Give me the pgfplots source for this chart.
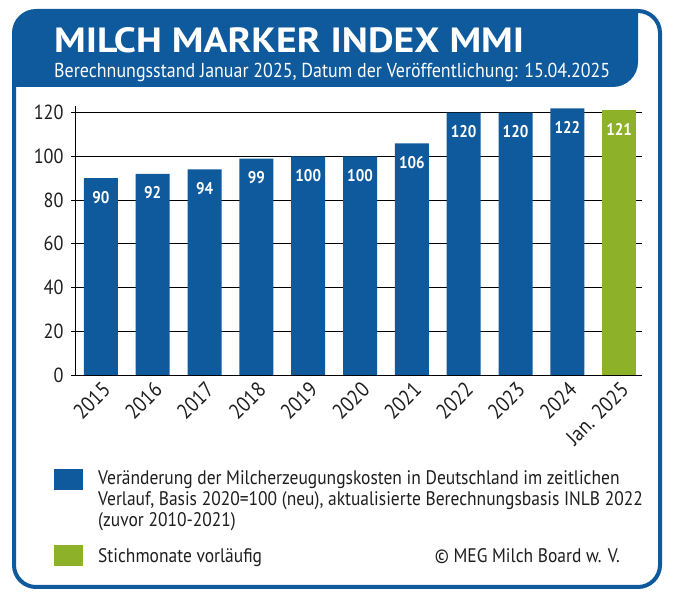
\documentclass[border=0pt]{standalone}
\usepackage{fontspec}
\setmainfont{PT Sans}[FakeStretch=0.89]
\usepackage{pgfplots}
\pgfplotsset{compat=1.18}
\definecolor{megblue}{HTML}{0F5A9C}
\definecolor{meggreen}{HTML}{8DB22A}
\definecolor{txt}{HTML}{1E1E1E}
\begin{document}
\begin{tikzpicture}[x=1bp,y=1bp]
\path[use as bounding box] (0,0) rectangle (673,600);
% header band
\fill[megblue] (14,513) -- (14,567) arc[start angle=180,end angle=90,radius=22] -- (638,589) -- (638,538) arc[start angle=0,end angle=-90,radius=25] -- cycle;
\draw[megblue,line width=4bp,rounded corners=22bp] (14,13) rectangle (660,589);
\node[anchor=base west,inner sep=0,text=white] at (54,547) {\resizebox{470bp}{25bp}{\bfseries MILCH MARKER INDEX MMI}};
\node[anchor=base west,inner sep=0,text=white] at (54,522) {\resizebox{556bp}{!}{\fontsize{18}{18}\selectfont Berechnungsstand Januar 2025, Datum der Veröffentlichung: 15.04.2025}};
\begin{axis}[
  at={(75bp,225bp)}, anchor=south west, scale only axis,
  width=567bp, height=268.9bp,
  xmin=-0.5, xmax=10.44, ymin=0, ymax=123,
  axis lines*=left,
  axis line style={black, line width=0.8bp},
  ybar, bar width=34bp,
  ytick={0,20,...,120}, ymajorgrids,
  major grid style={black, line width=0.8bp},
  xtick={0,...,10},
  xticklabels={2015,2016,2017,2018,2019,2020,2021,2022,2023,2024,Jan. 2025},
  x tick style={draw=none},
  y tick style={black, line width=0.8bp},
  major tick length=4bp, tick align=outside,
  ticklabel style={font=\fontsize{20.5}{20.5}\selectfont, text=txt},
  yticklabel style={xshift=-4bp},
  /pgf/number format/assume math mode=true,
  xticklabel style={rotate=45, anchor=north east, inner sep=1bp, font=\fontsize{21.5}{21.5}\selectfont},
  nodes near coords,
  every node near coord/.append style={anchor=center, yshift=-19bp, text=white, font=\bfseries\fontsize{17}{17}\selectfont},
  clip=false,
]
\addplot[fill=megblue, draw=none, bar shift=0pt] coordinates {(0,90) (1,92) (2,94) (3,99) (4,100) (5,100) (6,106) (7,120) (8,120) (9,122)};
\addplot[fill=meggreen, draw=none, bar shift=0pt] coordinates {(10,121)};
\end{axis}
% legend
\fill[megblue] (54,110) rectangle (83,131);
\fill[meggreen] (54,34) rectangle (83,55);
\begin{scope}[every node/.style={anchor=base west, inner sep=0, text=txt, font=\fontsize{19.7}{21}\selectfont}]
\node at (98,115) {Veränderung der Milcherzeugungskosten in Deutschland im zeitlichen};
\node at (98,94) {Verlauf, Basis 2020=100 (neu), aktualisierte Berechnungsbasis INLB 2022};
\node at (98,73) {(zuvor 2010-2021)};
\node at (98,37) {Stichmonate vorläufig};
\node[anchor=base east] at (620,37) {© MEG Milch Board w. V.};
\end{scope}
\end{tikzpicture}
\end{document}
